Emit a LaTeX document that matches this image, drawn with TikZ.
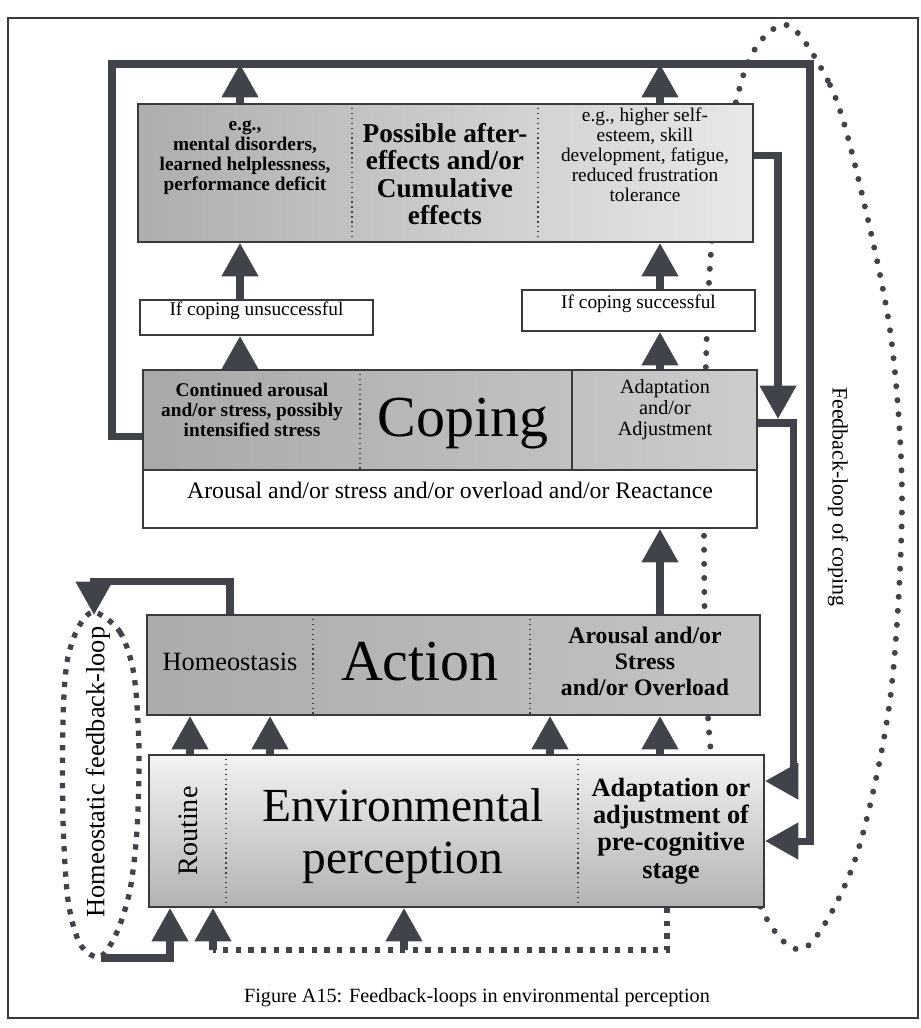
\documentclass[tikz,border=0pt]{standalone}
\usepackage{fontspec}
\setmainfont{Liberation Serif}
\usetikzlibrary{arrows.meta,fit}
\definecolor{pipegray}{RGB}{64,68,74}
\definecolor{edgegray}{RGB}{58,58,62}
\begin{document}
\begin{tikzpicture}[x=0.02cm, y=-0.02cm,
  box/.style={draw=edgegray, line width=1.1pt, inner sep=0pt},
  pipeline/.style={draw=pipegray, line width=4pt, -{Triangle[width=20pt,length=19pt]}},
  cellsep/.style={draw=black!75, line width=0.8pt, dotted},
  round dots/.style={draw=pipegray, line width=3.4pt, line cap=round, dash pattern=on 0pt off 8pt},
  square dots/.style={draw=pipegray, line width=3pt, dash pattern=on 3pt off 4.2pt},
  smallbold/.style={font=\bfseries\fontsize{11}{11.4}\selectfont, align=center},
  smalltxt/.style={font=\fontsize{11}{11.4}\selectfont, align=center},
  bigtxt/.style={font=\fontsize{33}{36}\selectfont}]
\useasboundingbox (0,0) rectangle (920,1028);
\draw[edgegray, line width=0.9pt] (8,18) rectangle (918,1018);
\draw[round dots] plot[smooth cycle] coordinates {(787,25) (830,85) (855,165) (890,330) (902,500) (890,700) (855,860) (805,948) (762,910) (712,760) (704,500) (712,240) (745,70)};
\draw[square dots] plot[smooth cycle] coordinates {(94,612) (120,632) (134,675) (139,750) (137,830) (130,890) (117,932) (100,957) (80,944) (68,900) (63,820) (63,720) (67,662) (78,628)};
\path (352,0) coordinate (dA1) (538,0) coordinate (dA2) (360,0) coordinate (dC1) (572,0) coordinate (dC2)
  (313,0) coordinate (dH1) (530,0) coordinate (dH2) (226,0) coordinate (dE1) (578,0) coordinate (dE2);
\path (240,0) coordinate (colL) (660,0) coordinate (colR) (190,0) coordinate (colA) (270,0) coordinate (colB)
  (550,0) coordinate (colC) (170,0) coordinate (colE) (667,0) coordinate (colS) (230,0) coordinate (colH);
\coordinate (loopTL) at (112,64);
\coordinate (loopTR) at (810,64);
\coordinate (joinB) at (778,419);
\coordinate (homeoTop) at (94,615);
\coordinate (homeoBot) at (101,958);
\coordinate (dotEnd) at (213,950);
\coordinate (dotMid) at (404,950);

\node[box, left color=black!32, right color=black!9, fit={(138,104) (753,242)}] (after) {};
\draw[cellsep] (after.north -| dA1) -- (after.south -| dA1);
\draw[cellsep] (after.north -| dA2) -- (after.south -| dA2);
\node[smallbold] (afterL) at (245,158) {e.g.,\\mental disorders,\\learned helplessness,\\performance deficit};
\node[font=\bfseries\fontsize{15.5}{15.5}\selectfont, align=center] (afterM) at (445,174) {Possible after-\\effects and/or\\Cumulative\\effects};
\node[smalltxt] (afterR) at (645,155) {e.g., higher self-\\esteem, skill\\development, fatigue,\\reduced frustration\\tolerance};

\node[box, fill=white, fit={(140,300) (373,335)}, font=\fontsize{11}{12}\selectfont] (unsucc) {If coping unsuccessful};
\node[box, fill=white, fit={(522,290) (755,331)}, font=\fontsize{11}{12}\selectfont] (succ) {If coping successful};

\node[box, left color=black!34, right color=black!20, fit={(143,370) (757,470)}] (coping) {};
\draw[cellsep] (coping.north -| dC1) -- (coping.south -| dC1);
\draw[edgegray, line width=0.8pt] (coping.north -| dC2) -- (coping.south -| dC2);
\node[smallbold] (copingL) at (252,410) {Continued arousal\\and/or stress, possibly\\intensified stress};
\node[bigtxt] (copingM) at (463,424) {Coping};
\node[font=\fontsize{11.5}{12}\selectfont, align=center] (copingR) at (665,410) {Adaptation\\and/or\\Adjustment};
\node[box, fill=white, fit={(143,470) (757,528)}, font=\fontsize{13.5}{14}\selectfont] (arousal) {Arousal and/or stress and/or overload and/or Reactance};

\node[box, left color=black!33, right color=black!23, fit={(147,615) (760,715)}] (action) {};
\draw[cellsep] (action.north -| dH1) -- (action.south -| dH1);
\draw[cellsep] (action.north -| dH2) -- (action.south -| dH2);
\node[font=\fontsize{15}{16}\selectfont] (actionL) at (230,662) {Homeostasis};
\node[bigtxt] (actionM) at (420,662) {Action};
\node[font=\bfseries\fontsize{13.5}{14.8}\selectfont, align=center] (actionR) at (645,661) {Arousal and/or\\Stress\\and/or Overload};

\node[box, top color=black!5, bottom color=black!30, fit={(149,755) (764,907)}] (env) {};
\draw[cellsep] (env.north -| dE1) -- (env.south -| dE1);
\draw[cellsep] (env.north -| dE2) -- (env.south -| dE2);
\node[font=\fontsize{16}{17}\selectfont, rotate=90] (envL) at (188,831) {Routine};
\node[font=\fontsize{27}{30}\selectfont, align=center] (envM) at (403,836) {Environmental\\perception};
\node[font=\bfseries\fontsize{15}{15.6}\selectfont, align=center] (envR) at (671,831) {Adaptation or\\adjustment of\\pre-cognitive\\stage};

\node[font=\fontsize{15}{16}\selectfont, rotate=90] (homeoLabel) at (98,772) {Homeostatic feedback-loop};
\node[font=\fontsize{12.5}{13}\selectfont, rotate=-90] (copingLabel) at (838,497) {Feedback-loop of coping};
\node[font=\fontsize{11.5}{12}\selectfont] (caption) at (477,998) {Figure A15: Feedback-loops in environmental perception};

\draw[pipeline] ([yshift=-9.6pt]coping.west) -| (loopTL) -| (loopTR) |- ([yshift=-5.7pt]env.east);
\draw[pipeline] ([yshift=-1.7pt]coping.east) -- ++(36,0) |- ([yshift=28.4pt]env.east);
\draw[pipeline] ([yshift=10.2pt]after.east) -| (joinB);
\draw[pipeline] (after.north -| colL) -- (loopTL -| colL);
\draw[pipeline] (after.north -| colR) -- (loopTL -| colR);
\draw[pipeline] (unsucc.north -| colL) -- (after.south -| colL);
\draw[pipeline] (coping.north -| colL) -- (unsucc.south -| colL);
\draw[pipeline] (succ.north -| colR) -- (after.south -| colR);
\draw[pipeline] (coping.north -| colR) -- (succ.south -| colR);
\draw[pipeline] (action.north -| colR) -- (arousal.south -| colR);
\foreach \col in {colA,colB,colC,colR}
  \draw[pipeline] (env.north -| \col) -- (action.south -| \col);
\draw[pipeline] (action.north -| colH) -- ++(0,-33) -| (homeoTop);
\draw[pipeline] (homeoBot) -| (env.south -| colE);
\draw[square dots] (env.south -| colS) |- (dotEnd);
\draw[pipeline] (dotEnd) -- (env.south -| dotEnd);
\draw[pipeline] (dotMid) -- (env.south -| dotMid);
\end{tikzpicture}
\end{document}
